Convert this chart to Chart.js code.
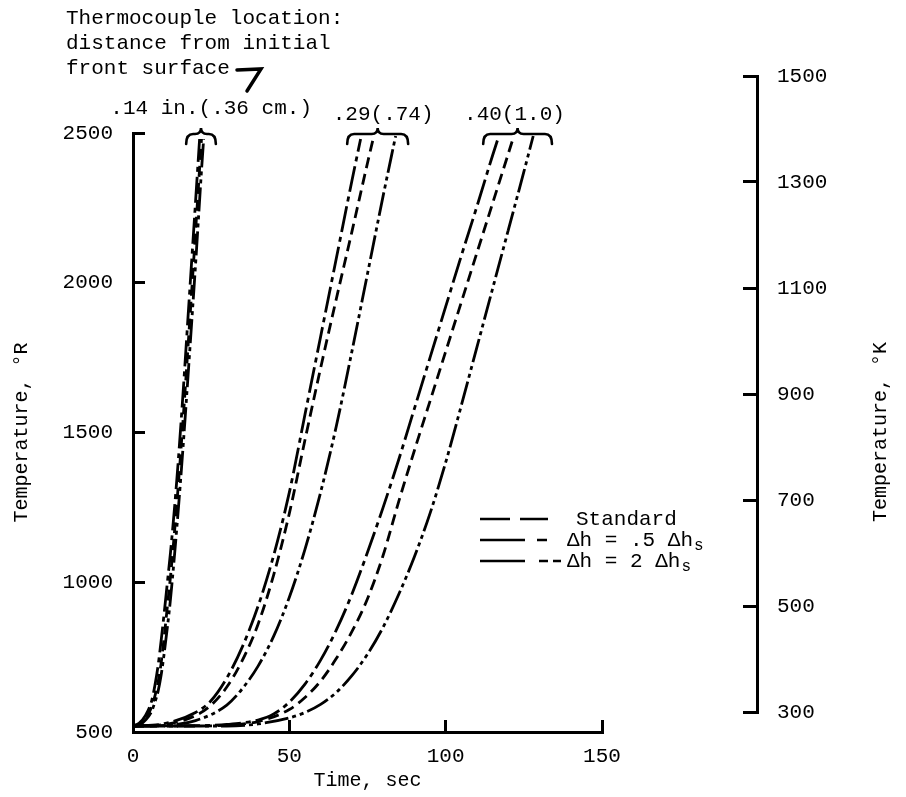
<!DOCTYPE html>
<html>
<head>
<meta charset="utf-8">
<script src="https://cdn.jsdelivr.net/npm/chart.js@4.4.1/dist/chart.umd.min.js"></script>
<style>
html, body { margin: 0; padding: 0; background: #fff; }
#wrap { position: relative; width: 906px; height: 797px; }
#wrap canvas { position: absolute; left: 0; top: 0; }
</style>
</head>
<body>
<div id="wrap">
  <canvas id="main" width="906" height="797"></canvas>
  <canvas id="kel" width="906" height="797"></canvas>
</div>
<script>
// ---------- tick labels ----------
const timeTicks = [0, 50, 100, 150];
const rankineTicks = [500, 1000, 1500, 2000, 2500];
const kelvinTicks = [300, 500, 700, 900, 1100, 1300, 1500];

// ---------- legend categories ----------
const legendNames = ['Standard', '\u0394h = .5 \u0394h', '\u0394h = 2 \u0394h'];

// ---------- location labels ----------
const locationLabels = ['.14 in.(.36 cm.)', '.29(.74)', '.40(1.0)'];

// ---------- .14 in. (.36 cm) ----------
const time14Half = [0, 2, 4, 6, 7, 8, 9, 10, 11, 12, 14, 16, 18, 20, 21.3];
const temp14Half = [520, 530, 555, 605, 655, 720, 805, 900, 1000, 1100, 1340, 1630, 1950, 2270, 2480];
const time14Std  = [0, 2, 4, 6, 7, 8, 9, 10, 11, 12, 14, 16, 18, 20, 21.9];
const temp14Std  = [520, 526, 545, 585, 620, 665, 730, 820, 920, 1020, 1260, 1540, 1850, 2170, 2480];
const time14Dbl  = [0, 2, 4, 6, 7, 8, 9, 10, 11, 12, 14, 16, 18, 20, 22, 22.6];
const temp14Dbl  = [520, 523, 540, 570, 600, 635, 690, 765, 850, 945, 1180, 1450, 1750, 2060, 2390, 2480];

// ---------- .29 in. (.74 cm) ----------
const time29Half = [0, 10, 20, 25, 30, 35, 40, 45, 50, 55, 60, 65, 70, 72.8];
const temp29Half = [520, 528, 565, 605, 680, 785, 920, 1090, 1300, 1560, 1820, 2080, 2340, 2480];
const time29Std  = [0, 10, 20, 25, 30, 35, 40, 45, 50, 55, 60, 65, 70, 75, 76.8];
const temp29Std  = [520, 525, 555, 590, 650, 740, 860, 1025, 1230, 1475, 1715, 1945, 2170, 2400, 2480];
const time29Dbl  = [0, 10, 20, 30, 35, 40, 45, 50, 55, 60, 65, 70, 75, 80, 84];
const temp29Dbl  = [520, 522, 538, 590, 645, 720, 820, 950, 1110, 1300, 1520, 1770, 2030, 2290, 2490];

// ---------- .40 in. (1.0 cm) ----------
const time40Half = [0, 20, 30, 40, 45, 50, 55, 60, 65, 70, 75, 80, 85, 90, 95, 100, 105, 110, 115, 117];
const temp40Half = [520, 521, 525, 540, 560, 600, 660, 740, 840, 960, 1100, 1250, 1410, 1580, 1750, 1920, 2090, 2255, 2425, 2490];
const time40Std  = [0, 20, 30, 40, 50, 55, 60, 65, 70, 75, 80, 85, 90, 95, 100, 105, 110, 115, 120, 121.5];
const temp40Std  = [520, 520, 523, 535, 575, 615, 670, 745, 835, 945, 1090, 1270, 1440, 1605, 1770, 1935, 2100, 2265, 2430, 2480];
const time40Dbl  = [0, 30, 40, 50, 55, 60, 65, 70, 75, 80, 85, 90, 95, 100, 105, 110, 115, 120, 125, 128];
const temp40Dbl  = [520, 520, 527, 547, 565, 592, 632, 688, 760, 850, 960, 1085, 1230, 1400, 1590, 1785, 1980, 2175, 2370, 2490];

// ---------- styles ----------
const FONT = '"Liberation Mono", "Courier New", monospace';
const DASH = {
  std:  [11, 6],
  half: [26, 5, 5, 5],
  dbl:  [24, 4, 4, 4, 4, 4]
};
const LEGEND_DASH = {
  std:  [30, 10, 28, 100],
  half: [45, 12, 10, 100],
  dbl:  [45, 14, 9, 5, 8, 100]
};

function pts(ts, vs) { return ts.map((t, i) => ({ x: t, y: vs[i] })); }
function ds(label, ts, vs, dash) {
  return {
    label: label,
    data: pts(ts, vs),
    borderColor: '#000',
    borderWidth: 2.8,
    borderDash: dash,
    pointRadius: 0,
    fill: false,
    cubicInterpolationMode: 'monotone'
  };
}

const datasets = [
  ds('.14 half', time14Half, temp14Half, DASH.half),
  ds('.14 std',  time14Std,  temp14Std,  DASH.std),
  ds('.14 dbl',  time14Dbl,  temp14Dbl,  DASH.dbl),
  ds('.29 half', time29Half, temp29Half, DASH.half),
  ds('.29 std',  time29Std,  temp29Std,  DASH.std),
  ds('.29 dbl',  time29Dbl,  temp29Dbl,  DASH.dbl),
  ds('.40 half', time40Half, temp40Half, DASH.half),
  ds('.40 std',  time40Std,  temp40Std,  DASH.std),
  ds('.40 dbl',  time40Dbl,  temp40Dbl,  DASH.dbl)
];

function brace(ctx, xl, xr, yEnd, yMid, yTip) {
  const xc = (xl + xr) / 2;
  ctx.beginPath();
  ctx.moveTo(xl, yEnd);
  ctx.quadraticCurveTo(xl, yMid, xl + 7, yMid);
  ctx.lineTo(xc - 6, yMid);
  ctx.quadraticCurveTo(xc, yMid, xc, yTip);
  ctx.quadraticCurveTo(xc, yMid, xc + 6, yMid);
  ctx.lineTo(xr - 7, yMid);
  ctx.quadraticCurveTo(xr, yMid, xr, yEnd);
  ctx.stroke();
}

const annotPlugin = {
  id: 'annot',
  afterDraw(chart) {
    const ctx = chart.ctx;
    const xs = chart.scales.x;
    ctx.save();
    ctx.fillStyle = '#000';
    ctx.strokeStyle = '#000';
    ctx.font = '21px ' + FONT;
    ctx.textBaseline = 'middle';
    ctx.textAlign = 'left';
    ctx.fillText('Thermocouple location:', 66, 18);
    ctx.fillText('distance from initial', 66, 43);
    ctx.fillText('front surface', 66, 68);
    // leader mark
    ctx.lineWidth = 3.5;
    ctx.lineCap = 'round';
    ctx.beginPath();
    ctx.moveTo(237, 70);
    ctx.lineTo(261, 69);
    ctx.lineTo(247, 91);
    ctx.stroke();

    // location labels
    ctx.textAlign = 'center';
    ctx.fillText(locationLabels[0], xs.getPixelForValue(25), 108);
    ctx.fillText(locationLabels[1], xs.getPixelForValue(80), 114);
    ctx.fillText(locationLabels[2], xs.getPixelForValue(122), 114);

    // braces
    ctx.lineWidth = 2.6;
    brace(ctx, xs.getPixelForValue(17), xs.getPixelForValue(26.5), 144, 134, 128);
    brace(ctx, xs.getPixelForValue(68.5), xs.getPixelForValue(88), 144, 134, 128);
    brace(ctx, xs.getPixelForValue(112), xs.getPixelForValue(134), 144, 134, 128);

    // legend
    const rows = [519, 540, 561];
    const keys = ['std', 'half', 'dbl'];
    const textX = [576, 567, 567];
    ctx.lineWidth = 2.6;
    ctx.lineCap = 'butt';
    for (let i = 0; i < 3; i++) {
      ctx.setLineDash(LEGEND_DASH[keys[i]]);
      ctx.beginPath();
      ctx.moveTo(480, rows[i]);
      ctx.lineTo(565, rows[i]);
      ctx.stroke();
      ctx.setLineDash([]);
      ctx.textAlign = 'left';
      ctx.font = '21px ' + FONT;
      ctx.fillText(legendNames[i], textX[i], rows[i]);
      if (i > 0) {
        const w = ctx.measureText(legendNames[i]).width;
        ctx.font = '16px ' + FONT;
        ctx.fillText('s', textX[i] + w + 1, rows[i] + 6);
      }
    }
    ctx.restore();
  }
};

const axisFont = { family: FONT, size: 21 };
const plain = v => String(v);

new Chart(document.getElementById('main'), {
  type: 'line',
  data: { datasets: datasets },
  options: {
    responsive: false,
    animation: false,
    events: [],
    layout: { padding: { left: 0, top: 133, right: 304, bottom: 0 } },
    plugins: { legend: { display: false }, tooltip: { enabled: false } },
    scales: {
      x: {
        type: 'linear', min: 0, max: 150,
        afterBuildTicks: s => { s.ticks = timeTicks.map(v => ({ value: v })); },
        afterFit: s => { s.height = 65; },
        border: { display: true, width: 3, color: '#000' },
        grid: { drawOnChartArea: false, drawTicks: true, tickLength: -12, tickWidth: 3, tickColor: '#000' },
        ticks: { padding: 24, color: '#000', font: axisFont, maxRotation: 0, callback: plain },
        title: { display: true, text: 'Time, sec', color: '#000', font: { family: FONT, size: 20 }, padding: { top: 0, bottom: 4 } }
      },
      y: {
        type: 'linear', min: 500, max: 2500,
        afterBuildTicks: s => { s.ticks = rankineTicks.map(v => ({ value: v })); },
        afterFit: s => { s.width = 133; },
        border: { display: true, width: 3, color: '#000' },
        grid: { drawOnChartArea: false, drawTicks: true, tickLength: -12, tickWidth: 3, tickColor: '#000' },
        ticks: { padding: 32, color: '#000', font: axisFont, callback: plain },
        title: { display: true, text: 'Temperature, \u00B0R', color: '#000', font: { family: FONT, size: 20 }, padding: { top: 10, bottom: 0 } }
      }
    }
  },
  plugins: [annotPlugin]
});

const rightTitlePlugin = {
  id: 'rightTitle',
  afterDraw(chart) {
    const ctx = chart.ctx;
    ctx.save();
    ctx.fillStyle = '#000';
    ctx.font = '20px ' + FONT;
    ctx.textAlign = 'center';
    ctx.textBaseline = 'middle';
    ctx.translate(881, 432);
    ctx.rotate(-Math.PI / 2);
    ctx.fillText('Temperature, \u00B0K', 0, 0);
    ctx.restore();
  }
};

new Chart(document.getElementById('kel'), {
  type: 'line',
  data: { datasets: [] },
  options: {
    responsive: false,
    animation: false,
    events: [],
    layout: { padding: { left: 600, right: 0, top: 76, bottom: 85 } },
    plugins: { legend: { display: false }, tooltip: { enabled: false } },
    scales: {
      x: { type: 'linear', display: false, min: 0, max: 1 },
      yK: {
        type: 'linear', position: 'right', min: 300, max: 1500,
        afterBuildTicks: s => { s.ticks = kelvinTicks.map(v => ({ value: v })); },
        afterFit: s => { s.width = 149; },
        border: { display: true, width: 3, color: '#000' },
        grid: { drawOnChartArea: false, drawTicks: true, tickLength: -14, tickWidth: 3, tickColor: '#000' },
        ticks: { padding: 34, color: '#000', font: axisFont, callback: plain }
      }
    }
  },
  plugins: [rightTitlePlugin]
});
</script>
</body>
</html>
